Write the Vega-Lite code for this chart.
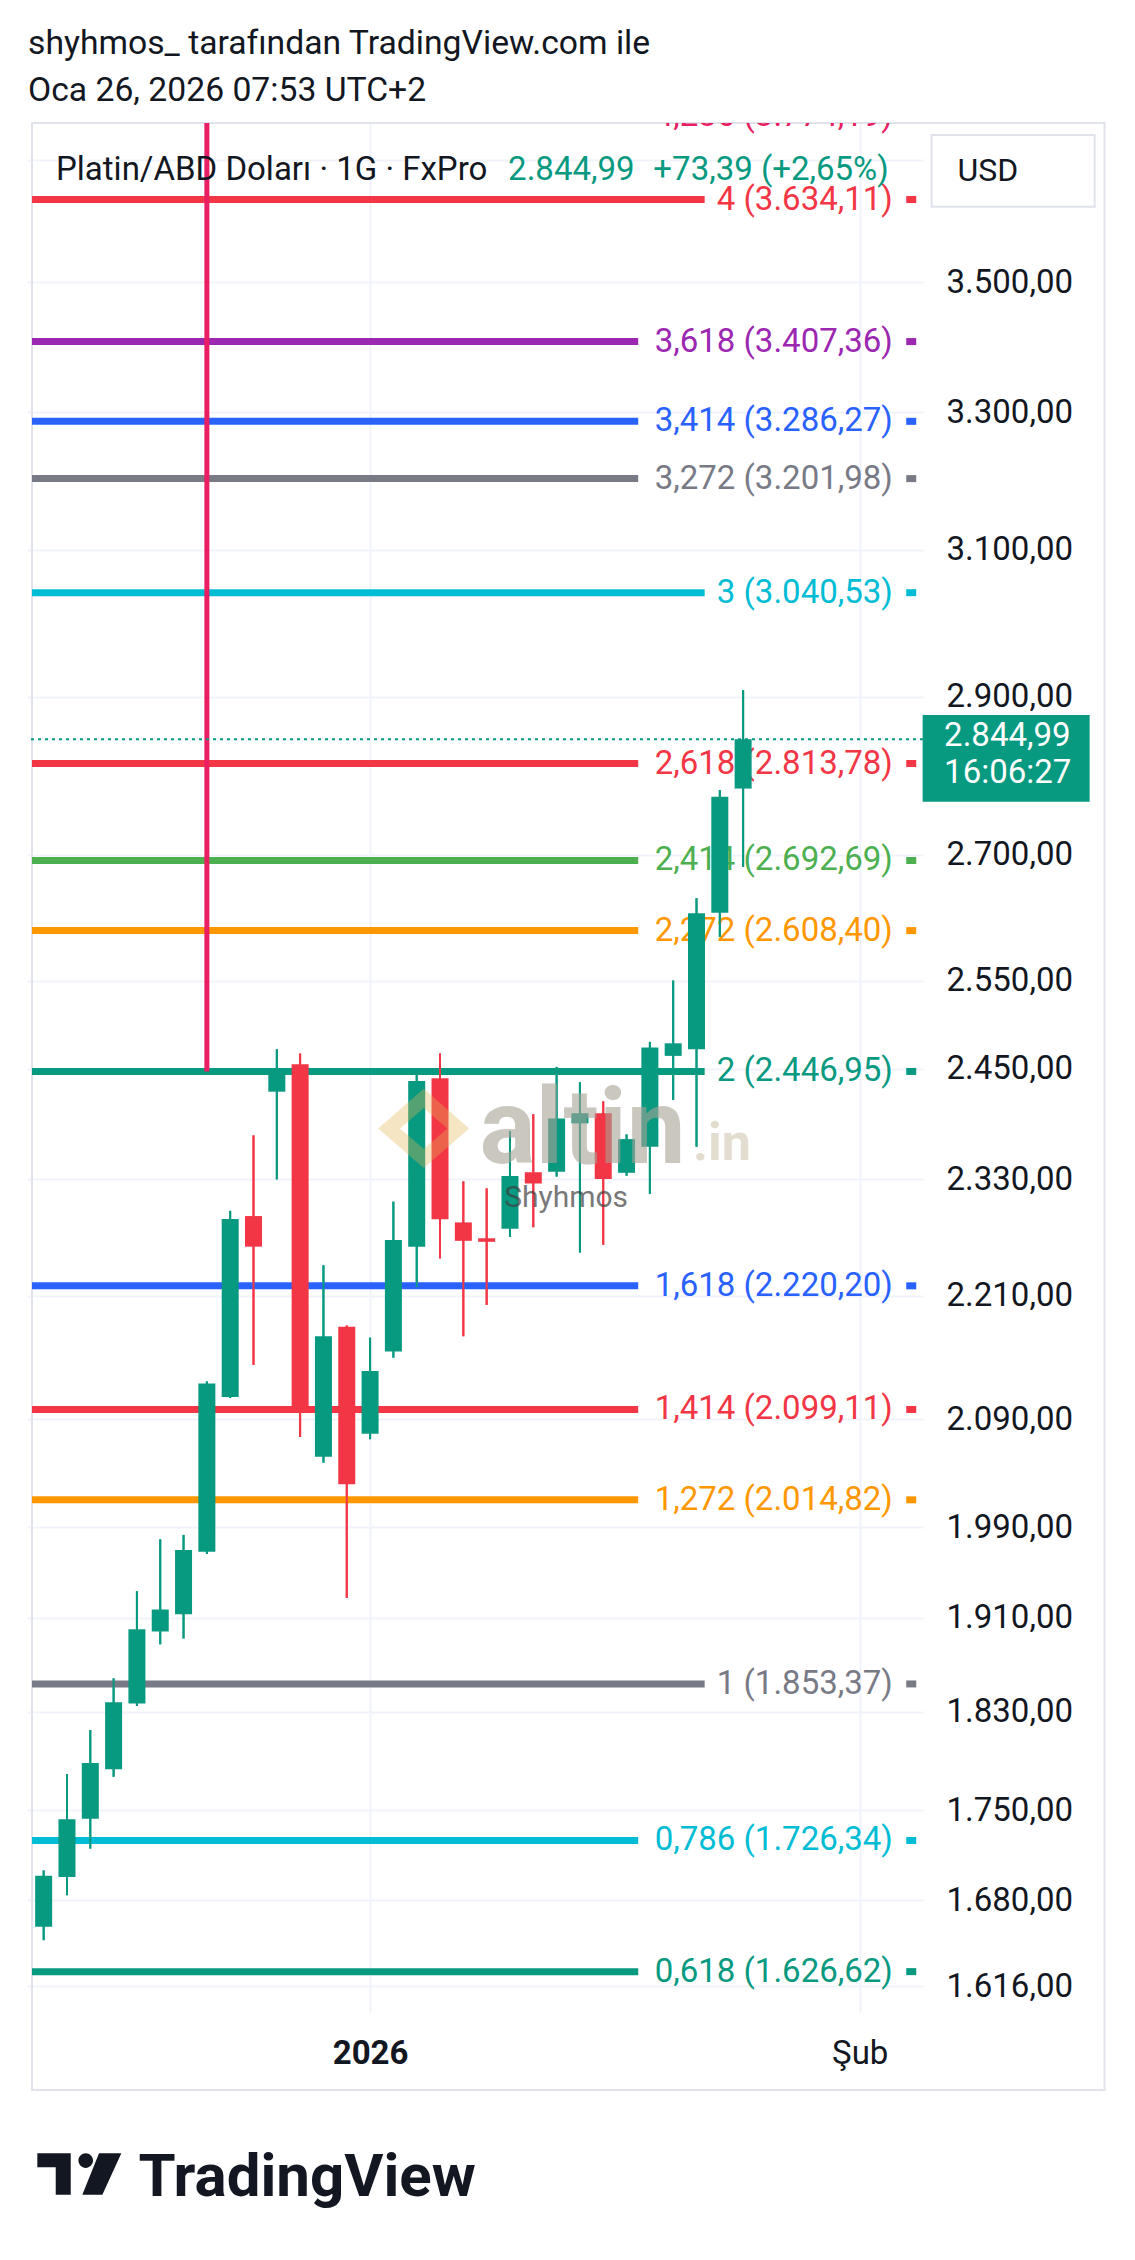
{
  "$schema": "https://vega.github.io/schema/vega-lite/v6.json",
  "width": 896,
  "height": 1889,
  "autosize": {"type": "none"},
  "padding": {"left": 27, "top": 123, "right": 212, "bottom": 248},
  "background": "#ffffff",
  "title": {
    "text": ["shyhmos_ tarafından TradingView.com ile", "Oca 26, 2026 07:53 UTC+2"],
    "anchor": "start",
    "frame": "group",
    "orient": "top",
    "offset": -14,
    "baseline": "alphabetic",
    "lineHeight": 46.7,
    "fontSize": 33.7,
    "fontWeight": "normal",
    "font": "Roboto",
    "color": "#131722",
    "dx": 1
  },
  "resolve": {"axis": {"x": "independent", "y": "independent"}},
  "datasets": {
    "candles": [
      {"i": 0, "date": "2025-12-11", "o": 1660, "h": 1703, "l": 1650, "c": 1699},
      {"i": 1, "date": "2025-12-12", "o": 1698, "h": 1779, "l": 1684, "c": 1743},
      {"i": 2, "date": "2025-12-15", "o": 1743.5, "h": 1815, "l": 1720, "c": 1788},
      {"i": 3, "date": "2025-12-16", "o": 1783, "h": 1858, "l": 1777, "c": 1838},
      {"i": 4, "date": "2025-12-17", "o": 1837, "h": 1933, "l": 1835, "c": 1900},
      {"i": 5, "date": "2025-12-18", "o": 1898, "h": 1979, "l": 1887, "c": 1917},
      {"i": 6, "date": "2025-12-19", "o": 1913, "h": 1983, "l": 1892, "c": 1969.5},
      {"i": 7, "date": "2025-12-22", "o": 1968, "h": 2126, "l": 1966, "c": 2124},
      {"i": 8, "date": "2025-12-23", "o": 2111, "h": 2297, "l": 2110, "c": 2288.5},
      {"i": 9, "date": "2025-12-24", "o": 2291.6, "h": 2377, "l": 2142, "c": 2260},
      {"i": 10, "date": "2025-12-26", "o": 2424.6, "h": 2471.6, "l": 2330, "c": 2448.5},
      {"i": 11, "date": "2025-12-29", "o": 2455, "h": 2467, "l": 2073, "c": 2097},
      {"i": 12, "date": "2025-12-30", "o": 2054.6, "h": 2241, "l": 2049, "c": 2170},
      {"i": 13, "date": "2025-12-31", "o": 2179.4, "h": 2180.5, "l": 1927, "c": 2029},
      {"i": 14, "date": "2026-01-02", "o": 2076, "h": 2168.6, "l": 2071, "c": 2136},
      {"i": 15, "date": "2026-01-05", "o": 2155, "h": 2306.6, "l": 2149, "c": 2266.8},
      {"i": 16, "date": "2026-01-06", "o": 2260, "h": 2444.8, "l": 2219, "c": 2436.3},
      {"i": 17, "date": "2026-01-07", "o": 2439.3, "h": 2467, "l": 2248, "c": 2288.2},
      {"i": 18, "date": "2026-01-08", "o": 2285, "h": 2328, "l": 2170, "c": 2266},
      {"i": 19, "date": "2026-01-09", "o": 2268.6, "h": 2320.5, "l": 2201, "c": 2265},
      {"i": 20, "date": "2026-01-12", "o": 2278.5, "h": 2381.7, "l": 2270, "c": 2333.6},
      {"i": 21, "date": "2026-01-13", "o": 2337.5, "h": 2400, "l": 2280, "c": 2325.8},
      {"i": 22, "date": "2026-01-14", "o": 2338, "h": 2452, "l": 2333, "c": 2395.4},
      {"i": 23, "date": "2026-01-15", "o": 2390, "h": 2435, "l": 2254, "c": 2401},
      {"i": 24, "date": "2026-01-16", "o": 2401, "h": 2414, "l": 2262, "c": 2330.4},
      {"i": 25, "date": "2026-01-19", "o": 2337, "h": 2378, "l": 2334, "c": 2373},
      {"i": 26, "date": "2026-01-20", "o": 2364.8, "h": 2480, "l": 2314.6, "c": 2473.8},
      {"i": 27, "date": "2026-01-21", "o": 2464.3, "h": 2550, "l": 2415.5, "c": 2478.4},
      {"i": 28, "date": "2026-01-22", "o": 2471.6, "h": 2647, "l": 2364.8, "c": 2629},
      {"i": 29, "date": "2026-01-23", "o": 2629.7, "h": 2780, "l": 2601, "c": 2771.6},
      {"i": 30, "date": "2026-01-26", "o": 2782, "h": 2909, "l": 2685, "c": 2844.99}
    ],
    "fib": [
      {"level": 4.236, "price": 3774.19, "label": "4,236 (3.774,19)"},
      {"level": 4, "price": 3634.11, "label": "4 (3.634,11)"},
      {"level": 3.618, "price": 3407.36, "label": "3,618 (3.407,36)"},
      {"level": 3.414, "price": 3286.27, "label": "3,414 (3.286,27)"},
      {"level": 3.272, "price": 3201.98, "label": "3,272 (3.201,98)"},
      {"level": 3, "price": 3040.53, "label": "3 (3.040,53)"},
      {"level": 2.618, "price": 2813.78, "label": "2,618 (2.813,78)"},
      {"level": 2.414, "price": 2692.69, "label": "2,414 (2.692,69)"},
      {"level": 2.272, "price": 2608.40, "label": "2,272 (2.608,40)"},
      {"level": 2, "price": 2446.95, "label": "2 (2.446,95)"},
      {"level": 1.618, "price": 2220.20, "label": "1,618 (2.220,20)"},
      {"level": 1.414, "price": 2099.11, "label": "1,414 (2.099,11)"},
      {"level": 1.272, "price": 2014.82, "label": "1,272 (2.014,82)"},
      {"level": 1, "price": 1853.37, "label": "1 (1.853,37)"},
      {"level": 0.786, "price": 1726.34, "label": "0,786 (1.726,34)"},
      {"level": 0.618, "price": 1626.62, "label": "0,618 (1.626,62)"}
    ],
    "quote": [
      {"symbol": "Platin/ABD Doları · 1G · FxPro", "last": 2844.99, "lastText": "2.844,99", "change": "+73,39 (+2,65%)", "countdown": "16:06:27", "anchorBar": 7, "anchorPrice": 2446.95}
    ],
    "one": [{}]
  },
  "config": {
    "view": {"stroke": null},
    "font": "Roboto",
    "text": {"font": "Roboto"}
  },
  "layer": [
    {
      "data": {"name": "one"},
      "mark": {"type": "rect", "fill": null, "stroke": "#e0e3eb", "strokeWidth": 2},
      "encoding": {
        "x": {"datum": -0.5, "type": "quantitative", "scale": {"domain": [-0.5, 37.5], "nice": false, "zero": false}, "axis": null},
        "x2": {"datum": 45.5},
        "y": {"datum": 3762.5, "type": "quantitative", "scale": {"type": "log", "domain": [1597.1, 3762.5], "nice": false}, "axis": null},
        "y2": {"datum": 1541.6}
      }
    },
    {
      "data": {"name": "candles"},
      "mark": {"type": "rule", "strokeWidth": 2},
      "encoding": {
        "x": {"field": "i", "type": "quantitative",
          "scale": {"domain": [-0.5, 37.5], "nice": false, "zero": false},
          "axis": {
            "orient": "bottom", "values": [14, 35],
            "labelExpr": "datum.value == 14 ? '2026' : 'Şub'",
            "labelFontWeight": {"condition": {"test": "datum.value == 14", "value": "bold"}, "value": "normal"},
            "ticks": false, "domain": false, "grid": true, "gridColor": "#f0f3fa", "gridWidth": 2,
            "labelFontSize": 33, "labelFont": "Roboto", "labelColor": "#131722", "labelPadding": 25, "labelFlush": false,
            "title": "TradingView", "titleX": 110.9, "titleY": 183, "titleAlign": "left", "titleAnchor": "start",
            "titleBaseline": "alphabetic", "titleFontSize": 60, "titleFontWeight": "bold", "titleColor": "#131722", "titleFont": "Roboto"
          }},
        "y": {"field": "l", "type": "quantitative",
          "scale": {"type": "log", "domain": [1597.1, 3762.5], "nice": false},
          "axis": {
            "orient": "right",
            "values": [3700, 3500, 3300, 3100, 2900, 2700, 2550, 2450, 2330, 2210, 2090, 1990, 1910, 1830, 1750, 1680, 1616],
            "labelExpr": "datum.value == 3700 ? '' : replace(replace(replace(format(datum.value, ',.2f'), ',', '#'), '.', ','), '#', '.')",
            "title": null, "ticks": false, "domain": false, "grid": true, "gridColor": "#f0f3fa", "gridWidth": 2,
            "labelFontSize": 33, "labelFont": "Roboto", "labelColor": "#131722", "labelPadding": 23,
            "labelAlign": "left", "labelBaseline": "middle", "labelOverlap": false, "labelFlush": false, "labelBound": false
          }},
        "y2": {"field": "h"},
        "color": {"condition": {"test": "datum.c >= datum.o", "value": "#089981"}, "value": "#f23645"}
      }
    },
    {
      "data": {"name": "fib"},
      "transform": [{"filter": "datum.level % 1 != 0"}],
      "mark": {"type": "rule", "strokeWidth": 7, "clip": true},
      "encoding": {
        "x": {"datum": -0.5, "type": "quantitative", "scale": {"domain": [-0.5, 37.5], "nice": false, "zero": false}, "axis": null},
        "x2": {"datum": 25.5},
        "y": {"field": "price", "type": "quantitative", "scale": {"type": "log", "domain": [1597.1, 3762.5], "nice": false}, "axis": null},
        "color": {"field": "level", "type": "nominal", "legend": null,
          "scale": {"domain": [4.236, 4, 3.618, 3.414, 3.272, 3, 2.618, 2.414, 2.272, 2, 1.618, 1.414, 1.272, 1, 0.786, 0.618],
                    "range": ["#e91e63", "#f23645", "#9c27b0", "#2962ff", "#787b86", "#00bcd4", "#f23645", "#4caf50", "#ff9800", "#089981", "#2962ff", "#f23645", "#ff9800", "#787b86", "#00bcd4", "#089981"]}}
      }
    },
    {
      "data": {"name": "fib"},
      "transform": [{"filter": "datum.level % 1 == 0"}],
      "mark": {"type": "rule", "strokeWidth": 7, "clip": true},
      "encoding": {
        "x": {"datum": -0.5, "type": "quantitative", "scale": {"domain": [-0.5, 37.5], "nice": false, "zero": false}, "axis": null},
        "x2": {"datum": 28.35},
        "y": {"field": "price", "type": "quantitative", "scale": {"type": "log", "domain": [1597.1, 3762.5], "nice": false}, "axis": null},
        "color": {"field": "level", "type": "nominal", "legend": null,
          "scale": {"domain": [4.236, 4, 3.618, 3.414, 3.272, 3, 2.618, 2.414, 2.272, 2, 1.618, 1.414, 1.272, 1, 0.786, 0.618],
                    "range": ["#e91e63", "#f23645", "#9c27b0", "#2962ff", "#787b86", "#00bcd4", "#f23645", "#4caf50", "#ff9800", "#089981", "#2962ff", "#f23645", "#ff9800", "#787b86", "#00bcd4", "#089981"]}}
      }
    },
    {
      "data": {"name": "quote"},
      "mark": {"type": "rule", "color": "#e91e63", "strokeWidth": 5},
      "encoding": {
        "x": {"field": "anchorBar", "type": "quantitative", "scale": {"domain": [-0.5, 37.5], "nice": false, "zero": false}, "axis": null},
        "y": {"field": "anchorPrice", "type": "quantitative", "scale": {"type": "log", "domain": [1597.1, 3762.5], "nice": false}, "axis": null},
        "y2": {"datum": 3762.5}
      }
    },
    {
      "data": {"name": "quote"},
      "mark": {"type": "rule", "color": "#089981", "strokeWidth": 2, "strokeDash": [3, 4]},
      "encoding": {
        "y": {"field": "last", "type": "quantitative", "scale": {"type": "log", "domain": [1597.1, 3762.5], "nice": false}, "axis": null}
      }
    },
    {
      "data": {"name": "fib"},
      "mark": {"type": "text", "align": "right", "baseline": "middle", "fontSize": 33, "font": "Roboto", "clip": true},
      "encoding": {
        "x": {"datum": 36.42, "type": "quantitative", "scale": {"domain": [-0.5, 37.5], "nice": false, "zero": false}, "axis": null},
        "y": {"field": "price", "type": "quantitative", "scale": {"type": "log", "domain": [1597.1, 3762.5], "nice": false}, "axis": null},
        "text": {"field": "label"},
        "color": {"field": "level", "type": "nominal", "legend": null,
          "scale": {"domain": [4.236, 4, 3.618, 3.414, 3.272, 3, 2.618, 2.414, 2.272, 2, 1.618, 1.414, 1.272, 1, 0.786, 0.618],
                    "range": ["#e91e63", "#f23645", "#9c27b0", "#2962ff", "#787b86", "#00bcd4", "#f23645", "#4caf50", "#ff9800", "#089981", "#2962ff", "#f23645", "#ff9800", "#787b86", "#00bcd4", "#089981"]}}
      }
    },
    {
      "data": {"name": "fib"},
      "mark": {"type": "point", "shape": "M-1,-0.7H1V0.7H-1Z", "filled": true, "size": 100, "opacity": 1, "clip": true},
      "encoding": {
        "x": {"datum": 37.21, "type": "quantitative", "scale": {"domain": [-0.5, 37.5], "nice": false, "zero": false}, "axis": null},
        "y": {"field": "price", "type": "quantitative", "scale": {"type": "log", "domain": [1597.1, 3762.5], "nice": false}, "axis": null},
        "color": {"field": "level", "type": "nominal", "legend": null,
          "scale": {"domain": [4.236, 4, 3.618, 3.414, 3.272, 3, 2.618, 2.414, 2.272, 2, 1.618, 1.414, 1.272, 1, 0.786, 0.618],
                    "range": ["#e91e63", "#f23645", "#9c27b0", "#2962ff", "#787b86", "#00bcd4", "#f23645", "#4caf50", "#ff9800", "#089981", "#2962ff", "#f23645", "#ff9800", "#787b86", "#00bcd4", "#089981"]}}
      }
    },
    {
      "data": {"name": "candles"},
      "mark": {"type": "rule", "strokeWidth": 2},
      "encoding": {
        "x": {"field": "i", "type": "quantitative", "scale": {"domain": [-0.5, 37.5], "nice": false, "zero": false}, "axis": null},
        "y": {"field": "l", "type": "quantitative", "scale": {"type": "log", "domain": [1597.1, 3762.5], "nice": false}, "axis": null},
        "y2": {"field": "h"},
        "color": {"condition": {"test": "datum.c >= datum.o", "value": "#089981"}, "value": "#f23645"}
      }
    },
    {
      "data": {"name": "candles"},
      "mark": {"type": "bar", "width": 17},
      "encoding": {
        "x": {"field": "i", "type": "quantitative", "scale": {"domain": [-0.5, 37.5], "nice": false, "zero": false}, "axis": null},
        "y": {"field": "o", "type": "quantitative", "scale": {"type": "log", "domain": [1597.1, 3762.5], "nice": false}, "axis": null},
        "y2": {"field": "c"},
        "color": {"condition": {"test": "datum.c >= datum.o", "value": "#089981"}, "value": "#f23645"}
      }
    },
    {
      "data": {"name": "one"},
      "mark": {"type": "point", "shape": "M0,-0.87L1,0L0,0.87L-1,0Z M0,-0.45L-0.52,0L0,0.45L0.52,0Z", "filled": true, "size": 8281, "color": "#e3b553", "opacity": 0.35},
      "encoding": {
        "x": {"datum": 16.3, "type": "quantitative", "scale": {"domain": [-0.5, 37.5], "nice": false, "zero": false}, "axis": null},
        "y": {"datum": 2384.5, "type": "quantitative", "scale": {"type": "log", "domain": [1597.1, 3762.5], "nice": false}, "axis": null}
      }
    },
    {
      "data": {"name": "one"},
      "mark": {"type": "text", "text": "altin", "align": "left", "baseline": "alphabetic", "fontSize": 105, "fontWeight": "bold", "font": "Roboto", "color": "#a8a296", "opacity": 0.6},
      "encoding": {
        "x": {"datum": 18.69, "type": "quantitative", "scale": {"domain": [-0.5, 37.5], "nice": false, "zero": false}, "axis": null},
        "y": {"datum": 2347.4, "type": "quantitative", "scale": {"type": "log", "domain": [1597.1, 3762.5], "nice": false}, "axis": null}
      }
    },
    {
      "data": {"name": "one"},
      "mark": {"type": "text", "text": ".in", "align": "left", "baseline": "alphabetic", "fontSize": 52, "fontWeight": "bold", "font": "Roboto", "color": "#d2c7b0", "opacity": 0.6},
      "encoding": {
        "x": {"datum": 27.85, "type": "quantitative", "scale": {"domain": [-0.5, 37.5], "nice": false, "zero": false}, "axis": null},
        "y": {"datum": 2350.6, "type": "quantitative", "scale": {"type": "log", "domain": [1597.1, 3762.5], "nice": false}, "axis": null}
      }
    },
    {
      "data": {"name": "one"},
      "mark": {"type": "text", "text": "Shyhmos", "align": "left", "baseline": "alphabetic", "fontSize": 30, "font": "Roboto", "color": "#3f3f3f", "opacity": 0.7},
      "encoding": {
        "x": {"datum": 19.75, "type": "quantitative", "scale": {"domain": [-0.5, 37.5], "nice": false, "zero": false}, "axis": null},
        "y": {"datum": 2301.4, "type": "quantitative", "scale": {"type": "log", "domain": [1597.1, 3762.5], "nice": false}, "axis": null}
      }
    },
    {
      "data": {"name": "quote"},
      "mark": {"type": "text", "align": "left", "baseline": "alphabetic", "fontSize": 33, "font": "Roboto", "color": "#131722"},
      "encoding": {
        "x": {"datum": 0.53, "type": "quantitative", "scale": {"domain": [-0.5, 37.5], "nice": false, "zero": false}, "axis": null},
        "y": {"datum": 3666.4, "type": "quantitative", "scale": {"type": "log", "domain": [1597.1, 3762.5], "nice": false}, "axis": null},
        "text": {"field": "symbol"}
      }
    },
    {
      "data": {"name": "quote"},
      "mark": {"type": "text", "align": "left", "baseline": "alphabetic", "fontSize": 33, "font": "Roboto", "color": "#089981"},
      "encoding": {
        "x": {"datum": 19.92, "type": "quantitative", "scale": {"domain": [-0.5, 37.5], "nice": false, "zero": false}, "axis": null},
        "y": {"datum": 3666.4, "type": "quantitative", "scale": {"type": "log", "domain": [1597.1, 3762.5], "nice": false}, "axis": null},
        "text": {"field": "lastText"}
      }
    },
    {
      "data": {"name": "quote"},
      "mark": {"type": "text", "align": "left", "baseline": "alphabetic", "fontSize": 33, "font": "Roboto", "color": "#089981"},
      "encoding": {
        "x": {"datum": 26.15, "type": "quantitative", "scale": {"domain": [-0.5, 37.5], "nice": false, "zero": false}, "axis": null},
        "y": {"datum": 3666.4, "type": "quantitative", "scale": {"type": "log", "domain": [1597.1, 3762.5], "nice": false}, "axis": null},
        "text": {"field": "change"}
      }
    },
    {
      "data": {"name": "quote"},
      "mark": {"type": "point", "shape": "M-1,-0.29H1V0.749H-1Z", "filled": true, "size": 27889, "color": "#089981", "opacity": 1},
      "encoding": {
        "x": {"datum": 41.28, "type": "quantitative", "scale": {"domain": [-0.5, 37.5], "nice": false, "zero": false}, "axis": null},
        "y": {"field": "last", "type": "quantitative", "scale": {"type": "log", "domain": [1597.1, 3762.5], "nice": false}, "axis": null}
      }
    },
    {
      "data": {"name": "quote"},
      "mark": {"type": "text", "align": "left", "baseline": "middle", "fontSize": 33, "font": "Roboto", "color": "#ffffff", "dy": -3},
      "encoding": {
        "x": {"datum": 38.62, "type": "quantitative", "scale": {"domain": [-0.5, 37.5], "nice": false, "zero": false}, "axis": null},
        "y": {"field": "last", "type": "quantitative", "scale": {"type": "log", "domain": [1597.1, 3762.5], "nice": false}, "axis": null},
        "text": {"field": "lastText"}
      }
    },
    {
      "data": {"name": "quote"},
      "mark": {"type": "text", "align": "left", "baseline": "middle", "fontSize": 33, "font": "Roboto", "color": "#ffffff", "dy": 34},
      "encoding": {
        "x": {"datum": 38.62, "type": "quantitative", "scale": {"domain": [-0.5, 37.5], "nice": false, "zero": false}, "axis": null},
        "y": {"field": "last", "type": "quantitative", "scale": {"type": "log", "domain": [1597.1, 3762.5], "nice": false}, "axis": null},
        "text": {"field": "countdown"}
      }
    },
    {
      "data": {"name": "one"},
      "mark": {"type": "point", "shape": "M-1,-0.44H1V0.44H-1Z", "filled": false, "size": 26569, "stroke": "#e0e3eb", "strokeWidth": 2, "fill": "#ffffff", "opacity": 1},
      "encoding": {
        "x": {"datum": 41.58, "type": "quantitative", "scale": {"domain": [-0.5, 37.5], "nice": false, "zero": false}, "axis": null},
        "y": {"datum": 3681.8, "type": "quantitative", "scale": {"type": "log", "domain": [1597.1, 3762.5], "nice": false}, "axis": null}
      }
    },
    {
      "data": {"name": "one"},
      "mark": {"type": "text", "text": "USD", "align": "center", "baseline": "middle", "fontSize": 32, "font": "Roboto", "color": "#131722"},
      "encoding": {
        "x": {"datum": 40.5, "type": "quantitative", "scale": {"domain": [-0.5, 37.5], "nice": false, "zero": false}, "axis": null},
        "y": {"datum": 3681.8, "type": "quantitative", "scale": {"type": "log", "domain": [1597.1, 3762.5], "nice": false}, "axis": null}
      }
    },
    {
      "data": {"name": "one"},
      "mark": {"type": "point", "shape": "M-1,-0.498H-0.205V0.495H-0.562V-0.164H-1Z M-0.022,-0.321A0.174,0.174 0 1,0 0.326,-0.321A0.174,0.174 0 1,0 -0.022,-0.321Z M0.469,-0.498L1,-0.498L0.548,0.495L0.071,0.495Z", "filled": true, "size": 7056, "color": "#131722", "opacity": 1},
      "encoding": {
        "x": {"datum": 1.53, "type": "quantitative", "scale": {"domain": [-0.5, 37.5], "nice": false, "zero": false}, "axis": null},
        "y": {"datum": 1483.9, "type": "quantitative", "scale": {"type": "log", "domain": [1597.1, 3762.5], "nice": false}, "axis": null}
      }
    }
  ]
}
